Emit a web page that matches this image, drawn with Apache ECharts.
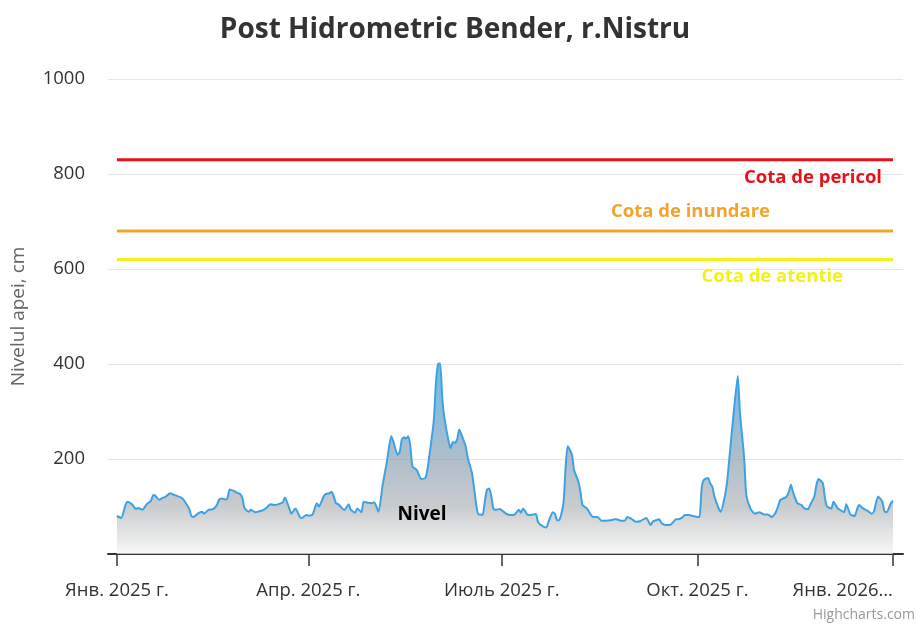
<!DOCTYPE html>
<html>
<head>
<meta charset="utf-8">
<script src="https://cdn.jsdelivr.net/npm/echarts@6/dist/echarts.min.js"></script>
<style>
html,body{margin:0;padding:0;background:#fff;}
#chart{width:917px;height:624px;}
</style>
</head>
<body>
<div id="chart"></div>
<script>
// ---- data ----
const chartTitle = 'Post Hidrometric Bender, r.Nistru';
const yAxisTitle = 'Nivelul apei, cm';
const seriesName = 'Nivel';
// day number counted from 2025-01-01
const days = [0,2,4,5,7,9,10,12,14,16,17,18,20,21,23,25,27,28,30,31,32,34,35,36,38,40,41,43,45,47,48,49,51,52,53,55,56,58,59,60,62,63,65,67,69,71,72,74,76,78,79,81,82,84,86,87,89,90,92,94,95,97,98,100,101,103,104,106,107,109,110,112,113,115,116,118,120,121,123,125,127,129,130,132,133,134,135,136,137,138,139,141,142,143,145,146,147,149,150,151,152,153,154,156,157,158,159,160,161,162,164,165,167,168,169,170,171,172,173,174,175,176,177,178,180,181,183,185,187,189,190,191,193,194,197,198,200,202,203,205,206,207,208,210,211,212,214,215,217,218,219,221,223,224,226,228,230,232,234,235,237,239,240,242,244,246,249,251,252,255,256,258,260,261,263,264,266,267,269,271,273,274,275,276,278,279,280,281,283,284,286,287,288,290,292,293,295,296,298,300,302,304,305,306,308,310,312,313,315,316,317,318,320,322,323,325,326,328,329,330,332,333,334,336,337,339,340,342,343,345,347,348,349,351,353,355,356,358,360,361,362,364,365];
const levels = [80,76,103,110,105,95,97,93,105,112,124,123,114,117,121,128,124,123,119,116,110,95,80,78,85,89,85,93,94,103,114,117,115,117,136,133,130,126,118,97,89,93,88,90,93,100,105,103,105,109,119,97,85,96,78,76,82,81,83,107,100,119,126,128,131,107,105,96,93,105,93,87,96,88,110,108,107,109,89,146,195,248,237,209,215,241,246,243,248,227,184,177,167,158,160,177,209,280,358,400,401,329,287,237,223,236,234,241,262,252,227,202,170,138,103,83,83,82,110,135,138,124,96,93,95,92,85,82,83,93,87,96,83,82,84,68,59,56,68,88,85,71,71,107,181,227,209,177,153,131,103,96,82,78,78,70,70,71,73,73,70,71,78,74,68,69,76,61,68,73,66,61,61,64,73,73,77,82,82,80,78,78,138,156,160,149,142,121,96,89,124,153,200,294,375,298,202,124,95,85,88,84,83,83,78,89,114,116,121,131,146,130,107,103,97,94,103,121,146,158,149,117,100,96,110,96,93,88,105,83,80,93,103,96,91,85,89,121,110,89,88,107,112];
const thresholdNames = ['Cota de pericol', 'Cota de inundare', 'Cota de atentie'];
const thresholdValues = [830, 680, 620];
const xTickDates = ['2025-01-01', '2025-04-01', '2025-07-01', '2025-10-01', '2026-01-01'];
const xTickLabels = ['Янв. 2025 г.', 'Апр. 2025 г.', 'Июль 2025 г.', 'Окт. 2025 г.', 'Янв. 2026…'];
const seriesLabelPoint = [143.5, 82]; // day, level where "Nivel" is written
const creditText = 'Highcharts.com';

// ---- styles ----
const FONT = '"Open Sans", "Noto Sans", sans-serif';
const thresholdColors = ['#e8101a', '#f2a42c', '#f2f21a'];
const thresholdLabelStyle = [
  {distance: 11, offset: [0, 18]},
  {distance: 123, offset: [0, -19]},
  {distance: 50, offset: [0, 17]}
];

const DAY = 86400000;
const T0 = Date.UTC(2025, 0, 1);
const parseDate = s => { const p = s.split('-').map(Number); return Date.UTC(p[0], p[1] - 1, p[2]); };
const tickDays = xTickDates.map(s => Math.round((parseDate(s) - T0) / DAY));

const firstD = days[0];
const lastD = days[days.length - 1];

const nivelData = days.map((d, i) => [d, levels[i]]);

const thresholdSeries = thresholdValues.map((v, i) => ({
  type: 'line',
  name: thresholdNames[i],
  data: [[firstD, v], [lastD, v]],
  symbol: 'none',
  silent: true,
  z: 3,
  lineStyle: {color: thresholdColors[i], width: 3},
  markPoint: {
    symbol: 'circle',
    symbolSize: 0,
    silent: true,
    data: [{
      coord: [lastD, v],
      label: {
        show: true,
        formatter: thresholdNames[i],
        position: 'left',
        distance: thresholdLabelStyle[i].distance,
        offset: thresholdLabelStyle[i].offset,
        color: thresholdColors[i],
        fontFamily: FONT,
        fontWeight: 'bold',
        fontSize: 18.5
      }
    }]
  }
}));

const chart = echarts.init(document.getElementById('chart'), null, {renderer: 'canvas'});
chart.setOption({
  animation: false,
  backgroundColor: '#ffffff',
  title: {
    text: chartTitle,
    left: 450,
    textAlign: 'center',
    top: 11,
    textStyle: {fontFamily: FONT, fontSize: 28, fontWeight: 'bold', color: '#333333'}
  },
  grid: {left: 108, right: 14, top: 79, bottom: 70, containLabel: false, outerBoundsMode: 'none'},
  xAxis: {
    type: 'value',
    min: firstD - 4.2,
    max: lastD + 4.7,
    axisLine: {show: true, lineStyle: {color: '#333333', width: 2}},
    axisTick: {show: true, length: 12, lineStyle: {color: '#333333', width: 1.5}, customValues: tickDays},
    axisLabel: {
      customValues: tickDays,
      margin: 27,
      color: '#333333',
      fontFamily: FONT,
      fontSize: 18.5,
      alignMaxLabel: 'right',
      formatter: function (val) {
        const idx = tickDays.indexOf(Math.round(val));
        return idx >= 0 ? xTickLabels[idx] : '';
      }
    },
    splitLine: {show: false}
  },
  yAxis: {
    type: 'value',
    min: 0,
    max: 1000,
    interval: 200,
    name: yAxisTitle,
    nameLocation: 'middle',
    nameGap: 80,
    nameTextStyle: {color: '#666666', fontFamily: FONT, fontSize: 19},
    axisLine: {show: false},
    axisTick: {show: false},
    axisLabel: {
      margin: 23,
      color: '#333333',
      fontFamily: FONT,
      fontSize: 18.5,
      formatter: v => (v === 0 ? '' : String(v))
    },
    splitLine: {lineStyle: {color: '#e6e6e6', width: 1}}
  },
  series: [
    {
      type: 'line',
      name: seriesName,
      data: nivelData,
      symbol: 'none',
      smooth: 0.2,
      z: 2,
      lineStyle: {color: '#3ea2e2', width: 2},
      areaStyle: {
        color: new echarts.graphic.LinearGradient(0, 0, 0, 1, [
          {offset: 0, color: '#2f9fe6'},
          {offset: 0.25, color: '#5a9ecd'},
          {offset: 0.5, color: '#8da2b3'},
          {offset: 0.75, color: '#b1b5b9'},
          {offset: 1, color: '#f4f4f4'}
        ])
      },
      markPoint: {
        symbol: 'circle',
        symbolSize: 0,
        silent: true,
        data: [{
          coord: [seriesLabelPoint[0], seriesLabelPoint[1]],
          label: {
            show: true,
            formatter: seriesName,
            position: 'inside',
            color: '#000000',
            fontFamily: FONT,
            fontWeight: 'bold',
            fontSize: 19
          }
        }]
      }
    }
  ].concat(thresholdSeries),
  graphic: [{
    type: 'text',
    right: 2,
    bottom: 2,
    style: {text: creditText, fill: '#999999', fontFamily: FONT, fontSize: 14}
  }]
});
</script>
</body>
</html>
